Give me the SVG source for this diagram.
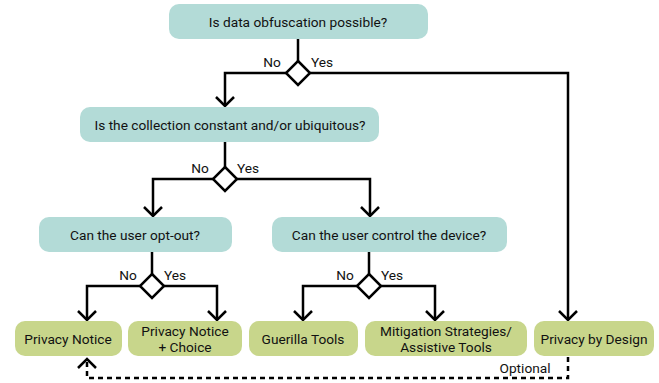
<svg xmlns="http://www.w3.org/2000/svg" width="659" height="383" viewBox="0 0 659 383">
<style>
.q{fill:#b3dbd7;stroke:none}
.a{fill:#c8d68b;stroke:none}
text{font-family:Roboto,"Liberation Sans",sans-serif;font-size:13.7px;fill:#111;text-anchor:middle;dominant-baseline:central}
.lbl{font-size:13.7px}
.ln{fill:none;stroke:#000;stroke-width:2.5}
.dm{fill:#fff;stroke:#000;stroke-width:2.5}
.ds{fill:none;stroke:#000;stroke-width:2.5;stroke-dasharray:5 4}
</style>
<defs>
<marker id="ar" viewBox="-12 -12 24 24" refX="0" refY="0" markerWidth="24" markerHeight="24" markerUnits="userSpaceOnUse" orient="auto">
<path d="M-9,-9 L0,0 L-9,9" fill="none" stroke="#000" stroke-width="2.5"/>
</marker>
</defs>
<g id="connectors">
<path class="ln" d="M298,39 V61"/>
<path class="ln" d="M287,73 H225 V106" marker-end="url(#ar)"/>
<path class="ln" d="M310,73 H568 V320" marker-end="url(#ar)"/>
<polygon class="dm" points="298,61 310,73 298,85 286,73"/>
<text class="lbl" x="272" y="62">No</text>
<text class="lbl" x="322" y="62">Yes</text>
<path class="ln" d="M225,142 V167"/>
<path class="ln" d="M213,179 H153 V216" marker-end="url(#ar)"/>
<path class="ln" d="M237,179 H370 V216" marker-end="url(#ar)"/>
<polygon class="dm" points="225,167 237,179 225,191 213,179"/>
<text class="lbl" x="200" y="168">No</text>
<text class="lbl" x="248" y="168">Yes</text>
<path class="ln" d="M152,252 V274"/>
<path class="ln" d="M140,286 H87 V320" marker-end="url(#ar)"/>
<path class="ln" d="M164,286 H217 V320" marker-end="url(#ar)"/>
<polygon class="dm" points="152,274 164,286 152,298 140,286"/>
<text class="lbl" x="128" y="275">No</text>
<text class="lbl" x="175" y="275">Yes</text>
<path class="ln" d="M369,252 V274"/>
<path class="ln" d="M357,286 H303 V320" marker-end="url(#ar)"/>
<path class="ln" d="M381,286 H435 V320" marker-end="url(#ar)"/>
<polygon class="dm" points="369,274 381,286 369,298 357,286"/>
<text class="lbl" x="345" y="275">No</text>
<text class="lbl" x="392" y="275">Yes</text>
<path class="ds" d="M568,357 V378 H87 V359" marker-end="url(#ar)"/>
<text class="lbl" x="525" y="368">Optional</text>
</g>
<g id="q1"><rect class="q" x="169" y="4" width="259" height="35" rx="10"/><text x="298" y="22">Is data obfuscation possible?</text></g>
<g id="q2"><rect class="q" x="80" y="107" width="299" height="35" rx="10"/><text x="230" y="125">Is the collection constant and/or ubiquitous?</text></g>
<g id="q3"><rect class="q" x="39" y="217" width="193" height="35" rx="10"/><text x="135" y="235">Can the user opt-out?</text></g>
<g id="q4"><rect class="q" x="272" y="217" width="235" height="35" rx="10"/><text x="389" y="235">Can the user control the device?</text></g>
<g id="r1"><rect class="a" x="15" y="321" width="107" height="35" rx="10"/><text x="68" y="339">Privacy Notice</text></g>
<g id="r2"><rect class="a" x="128" y="321" width="114" height="35" rx="10"/><text x="185" y="331">Privacy Notice</text><text x="185" y="347">+ Choice</text></g>
<g id="r3"><rect class="a" x="249" y="321" width="109" height="35" rx="10"/><text x="303" y="339">Guerilla Tools</text></g>
<g id="r4"><rect class="a" x="365" y="321" width="162" height="35" rx="10"/><text x="446" y="331">Mitigation Strategies/</text><text x="446" y="347">Assistive Tools</text></g>
<g id="r5"><rect class="a" x="534" y="321" width="120" height="35" rx="10"/><text x="594" y="339">Privacy by Design</text></g>
</svg>
